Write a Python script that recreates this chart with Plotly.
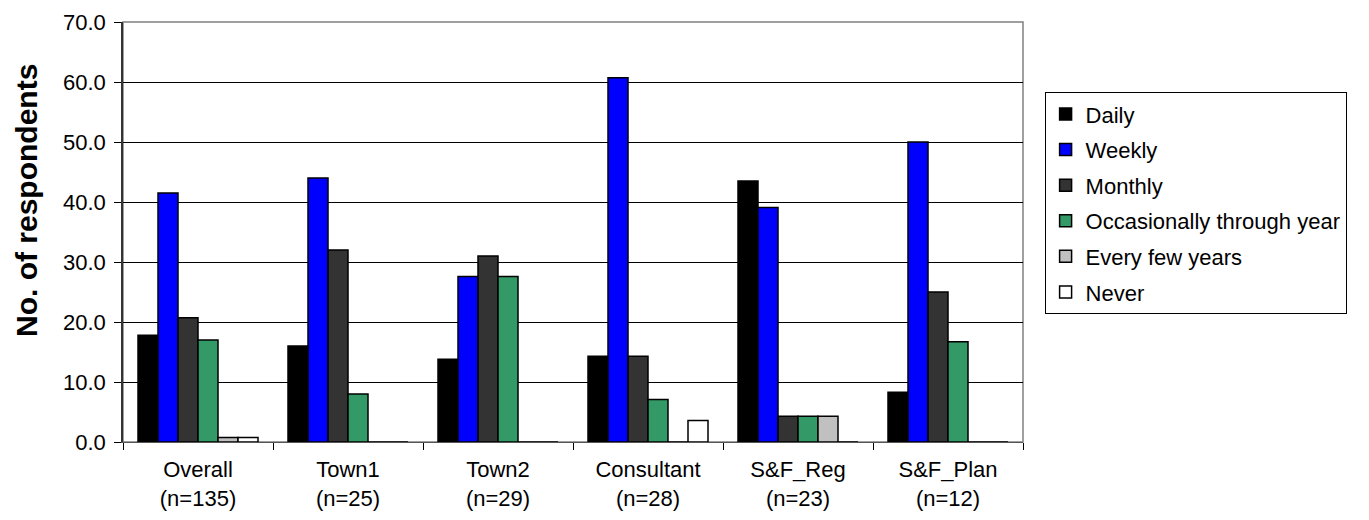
import plotly.graph_objects as go

categories = ["Overall<br>(n=135)", "Town1<br>(n=25)", "Town2<br>(n=29)",
              "Consultant<br>(n=28)", "S&F_Reg<br>(n=23)", "S&F_Plan<br>(n=12)"]

daily = [17.8, 16.0, 13.8, 14.3, 43.5, 8.3]
weekly = [41.5, 44.0, 27.6, 60.7, 39.1, 50.0]
monthly = [20.7, 32.0, 31.0, 14.3, 4.3, 25.0]
occasionally = [17.0, 8.0, 27.6, 7.1, 4.3, 16.7]
every_few_years = [0.74, 0, 0, 0, 4.3, 0]
never = [0.74, 0, 0, 3.6, 0, 0]

series = [
    ("Daily", daily, "#000000"),
    ("Weekly", weekly, "#0000FF"),
    ("Monthly", monthly, "#333333"),
    ("Occasionally through year", occasionally, "#339966"),
    ("Every few years", every_few_years, "#C0C0C0"),
    ("Never", never, "#FFFFFF"),
]

fig = go.Figure()
for i, (name, vals, color) in enumerate(series):
    fig.add_trace(go.Bar(
        x=categories, y=vals, name=name, legendgroup=str(i),
        marker=dict(color=color, line=dict(color="#000000", width=1.5)),
    ))

font_family = "Liberation Sans, Arial, sans-serif"
# page body has an 8px margin, so the figure is sized to fit the window
fig.update_layout(
    width=1361, height=512,
    barmode="group", bargap=0.2, bargroupgap=0,
    paper_bgcolor="white", plot_bgcolor="white",
    margin=dict(l=115, r=346, t=14, b=78, autoexpand=False),
    font=dict(family=font_family, size=22, color="black"),
    showlegend=True,
    legend=dict(
        x=1.024, y=0.833, xanchor="left", yanchor="top",
        bordercolor="black", borderwidth=1, bgcolor="white",
        font=dict(size=22), tracegroupgap=4,
    ),
    xaxis=dict(
        automargin=False,
        showline=True, linecolor="#555555", linewidth=1, mirror=False,
        ticks="outside", tickson="boundaries", ticklen=7, tickcolor="black",
        ticklabelstandoff=8,
        showgrid=False, tickfont=dict(size=22),
    ),
    yaxis=dict(
        automargin=False,
        range=[0, 70], dtick=10, tickformat=".1f",
        showline=True, linecolor="#333333", linewidth=1.5,
        ticks="outside", ticklen=7, tickcolor="black",
        ticklabelstandoff=4,
        showgrid=True, gridcolor="black", gridwidth=1,
        zeroline=False, tickfont=dict(size=22),
    ),
)

fig.add_annotation(
    text="<b>No. of respondents</b>", textangle=-90,
    xref="paper", yref="paper", x=(18 - 115) / 900, y=(434 - 193) / 420,
    xanchor="center", yanchor="middle", showarrow=False,
    font=dict(size=30, family=font_family, color="black"),
)

# gray border on top and right of plot area
fig.add_shape(type="rect", xref="paper", yref="paper", x0=0, y0=0, x1=1, y1=1,
              line=dict(color="#808080", width=1.5), layer="below")

fig.write_html("out.html")
